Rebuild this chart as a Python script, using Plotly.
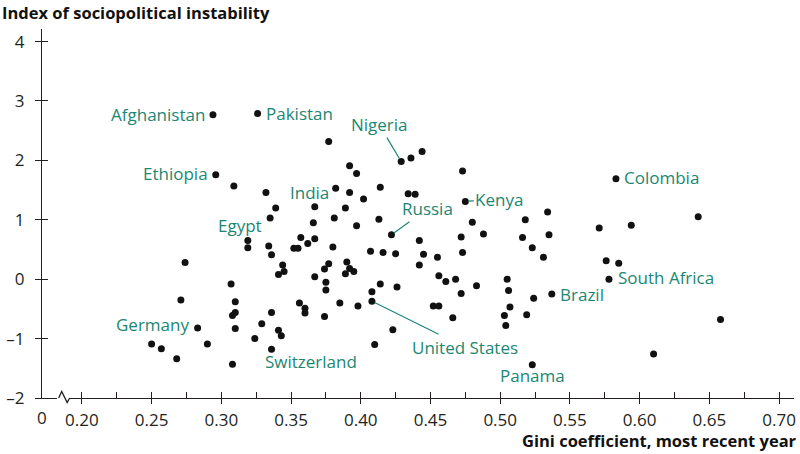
import plotly.graph_objects as go

# ---- data ----
gini = [0.294, 0.326, 0.296, 0.377, 0.309, 0.332, 0.382, 0.339, 0.367, 0.366,
        0.335, 0.381, 0.319, 0.319, 0.334, 0.336, 0.357, 0.367, 0.352, 0.355,
        0.362, 0.380, 0.344, 0.345, 0.341, 0.377, 0.374, 0.367, 0.375, 0.375,
        0.307, 0.274, 0.271, 0.310, 0.310, 0.308, 0.310, 0.283, 0.250, 0.257,
        0.290, 0.268, 0.308, 0.336, 0.329, 0.324, 0.341, 0.343, 0.336, 0.356,
        0.360, 0.360, 0.374, 0.385, 0.398, 0.390, 0.392, 0.395, 0.389, 0.414,
        0.408, 0.426, 0.408, 0.423, 0.410, 0.392, 0.397, 0.429, 0.436, 0.444,
        0.473, 0.392, 0.414, 0.402, 0.434, 0.439, 0.475, 0.389, 0.397, 0.413,
        0.422, 0.407, 0.416, 0.425, 0.442, 0.445, 0.442, 0.455, 0.480, 0.488,
        0.472, 0.473, 0.534, 0.518, 0.516, 0.535, 0.523, 0.531, 0.456, 0.461,
        0.468, 0.472, 0.483, 0.452, 0.456, 0.466, 0.505, 0.506, 0.524, 0.507,
        0.519, 0.503, 0.504, 0.523, 0.537, 0.583, 0.642, 0.571, 0.594, 0.576,
        0.585, 0.578, 0.658, 0.610]
instability = [2.77, 2.79, 1.76, 2.32, 1.57, 1.46, 1.53, 1.20, 1.22, 0.95,
               1.03, 1.03, 0.65, 0.53, 0.56, 0.41, 0.70, 0.68, 0.52, 0.52,
               0.60, 0.54, 0.24, 0.13, 0.08, 0.26, 0.17, 0.04, -0.05, -0.18,
               -0.08, 0.28, -0.35, -0.38, -0.56, -0.61, -0.83, -0.82, -1.09, -1.17,
               -1.09, -1.34, -1.43, -0.56, -0.75, -1.00, -0.86, -0.95, -1.18, -0.40,
               -0.49, -0.57, -0.63, -0.40, -0.45, 0.29, 0.18, 0.13, 0.09, -0.08,
               -0.21, -0.13, -0.37, -0.85, -1.10, 1.91, 1.78, 1.98, 2.04, 2.15,
               1.82, 1.46, 1.55, 1.35, 1.44, 1.43, 1.31, 1.20, 0.90, 1.01,
               0.75, 0.47, 0.45, 0.43, 0.65, 0.42, 0.24, 0.37, 0.96, 0.76,
               0.71, 0.45, 1.13, 1.00, 0.70, 0.75, 0.53, 0.37, 0.06, -0.04,
               0.00, -0.24, -0.11, -0.45, -0.45, -0.65, 0.00, -0.19, -0.32, -0.47,
               -0.60, -0.61, -0.78, -1.44, -0.25, 1.69, 1.05, 0.86, 0.91, 0.31,
               0.27, 0.00, -0.68, -1.26]
country = [""] * len(gini)
named = {0: "Afghanistan", 1: "Pakistan", 2: "Ethiopia", 6: "India", 10: "Egypt",
         67: "Nigeria", 80: "Russia", 76: "Kenya", 115: "Colombia",
         121: "South Africa", 114: "Brazil", 113: "Panama", 62: "United States",
         37: "Germany", 48: "Switzerland"}
for i, n in named.items():
    country[i] = n

x_ticks = [0.20, 0.25, 0.30, 0.35, 0.40, 0.45, 0.50, 0.55, 0.60, 0.65, 0.70]
x_ticktext = ["0.20", "0.25", "0.30", "0.35", "0.40", "0.45", "0.50", "0.55", "0.60", "0.65", "0.70"]
x_minor = [0.225, 0.275, 0.325, 0.375, 0.425, 0.475, 0.525, 0.575, 0.625, 0.675]
y_ticks = [-2, -1, 0, 1, 2, 3, 4]
y_ticktext = ["\u20132", "\u20131", "0", "1", "2", "3", "4"]

# ---- styling ----
TEAL = "#1b8772"
INK = "#231f20"
FONT = "Open Sans"
XR = [0.1714, 0.7107]
YR = [-2, 4.212]

label_style = {
    "Afghanistan": ("side", "right", -6, 0),
    "Pakistan": ("side", "left", 6, 0),
    "Ethiopia": ("side", "right", -6, 1),
    "India": ("side", "right", -5, -4),
    "Egypt": ("side", "right", -6, -7),
    "Colombia": ("side", "left", 6, 1),
    "South Africa": ("side", "left", 7, 2),
    "Brazil": ("side", "left", 6, 0),
    "Germany": ("side", "right", -7, 3),
    "Switzerland": ("side", "left", -9, -12),
    "Panama": ("side", "center", 0, -11),
    "Nigeria": ("arrow", -22, -37),
    "Russia": ("arrow", 36, -26),
    "Kenya": ("arrow", 34, -2),
    "United States": ("arrow", 93, 46),
}

fig = go.Figure()
fig.add_trace(go.Scatter(
    x=gini, y=instability, mode="markers",
    marker=dict(size=7, color="#111111"),
    text=country, hoverinfo="x+y+text", showlegend=False, cliponaxis=False))
fig.add_trace(go.Scatter(x=[None], y=[None], xaxis="x2", yaxis="y2",
                         showlegend=False, hoverinfo="skip"))

annotations = []
for xv, yv, name in zip(gini, instability, country):
    if not name:
        continue
    st = label_style[name]
    f = dict(family=FONT, size=17, color=TEAL)
    if st[0] == "side":
        annotations.append(dict(x=xv, y=yv, text=name, showarrow=False,
                                xanchor=st[1], yanchor="middle",
                                xshift=st[2], yshift=st[3], font=f))
    else:
        annotations.append(dict(x=xv, y=yv, text=name, showarrow=True,
                                ax=st[1], ay=st[2], arrowhead=0, arrowwidth=1.2,
                                arrowcolor=TEAL, standoff=3, borderpad=1, font=f))

annotations.append(dict(xref="paper", yref="paper", x=0, y=-0.016,
                        text="0", showarrow=False, xanchor="center", yanchor="top",
                        font=dict(family=FONT, size=17, color=INK)))
annotations.append(dict(xref="paper", yref="paper", x=-42 / 754, y=1.046,
                        text="<b>Index of sociopolitical instability</b>", showarrow=False,
                        xanchor="left", yanchor="middle",
                        font=dict(family=FONT, size=16.5, color="#111")))
annotations.append(dict(xref="paper", yref="paper", x=1.006, y=-0.114,
                        text="<b>Gini coefficient, most recent year</b>", showarrow=False,
                        xanchor="right", yanchor="middle",
                        font=dict(family=FONT, size=16.5, color="#111")))

shapes = [
    dict(type="line", xref="paper", yref="paper", x0=0.020, x1=0.037, y0=0, y1=0,
         line=dict(color="white", width=3), layer="above"),
    dict(type="path", xref="paper", yref="paper",
         path="M 0.0222 0 L 0.0262 0.0176 L 0.0335 -0.0122 L 0.0368 0",
         line=dict(color=INK, width=1.3), layer="above"),
]

fig.update_layout(
    width=800, height=454,
    margin=dict(l=42, r=4, t=29, b=56),
    paper_bgcolor="white", plot_bgcolor="white",
    font=dict(family=FONT, size=17, color=INK),
    xaxis=dict(range=XR, showgrid=False, zeroline=False, showline=True,
               linecolor=INK, linewidth=1.3, ticks="outside", ticklen=5,
               tickwidth=1.3, tickcolor=INK, tickvals=x_ticks, ticktext=x_ticktext,
               tickfont=dict(family=FONT, size=17, color=INK), ticklabelstandoff=1),
    yaxis=dict(range=YR, showgrid=False, zeroline=False, showline=True,
               linecolor=INK, linewidth=1.3, ticks="outside", ticklen=6,
               tickwidth=1.3, tickcolor=INK, tickvals=y_ticks, ticktext=y_ticktext,
               tickfont=dict(family=FONT, size=17, color=INK), ticklabelstandoff=7),
    xaxis2=dict(range=XR, overlaying="x", anchor="y2", showgrid=False, zeroline=False,
                showline=False, ticks="inside", ticklen=6, tickwidth=1.3, tickcolor=INK,
                tickvals=x_ticks + x_minor, showticklabels=False),
    yaxis2=dict(range=YR, overlaying="y", anchor="x2", side="left", showgrid=False,
                zeroline=False, showline=False, ticks="inside", ticklen=6, tickwidth=1.3,
                tickcolor=INK, tickvals=y_ticks[1:], showticklabels=False),
    annotations=annotations,
    shapes=shapes,
)

fig.write_html("out.html", config={"displayModeBar": False},
               post_script="document.body.style.margin='0';document.body.style.padding='0';")
